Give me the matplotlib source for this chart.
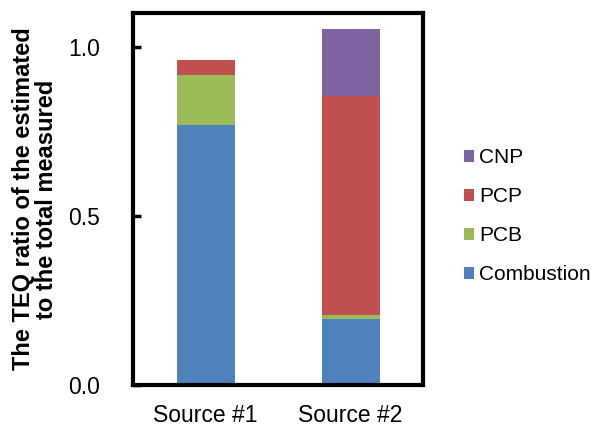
import matplotlib
matplotlib.use("Agg")
import matplotlib.pyplot as plt
from matplotlib.patches import Patch

plt.rcParams['font.family'] = ['Liberation Sans', 'DejaVu Sans']

categories = ["Source #1", "Source #2"]
series_names = ["Combustion", "PCB", "PCP", "CNP"]
combustion = [0.770, 0.195]
pcb = [0.147, 0.012]
pcp = [0.045, 0.649]
cnp = [0.0, 0.197]
colors = ["#4F81BD", "#9BBB59", "#C0504D", "#8064A2"]
yticks = [0.0, 0.5, 1.0]

fig = plt.figure(figsize=(5.94, 4.26), dpi=100)
ax = fig.add_axes([133/594, 41/426, 290/594, 372/426])

x = list(range(len(categories)))
bottom = [0.0] * len(categories)
handles = []
for name, vals, c in zip(series_names, [combustion, pcb, pcp, cnp], colors):
    ax.bar(x, vals, width=0.4, bottom=bottom, color=c, edgecolor='none')
    bottom = [b + v for b, v in zip(bottom, vals)]
    handles.append(Patch(facecolor=c, edgecolor='none', label=name))

ax.set_xlim(-0.5, 1.5)
ax.set_ylim(0, 1.1)
ax.set_xticks(x)
ax.set_xticklabels(categories, fontsize=16.5)
ax.set_yticks(yticks)
ax.set_yticklabels([f"{t:.1f}" for t in yticks], fontsize=16.5)
ax.tick_params(axis='x', length=0, pad=14)
ax.tick_params(axis='y', direction='in', length=6, width=2.5, pad=24)
for s in ax.spines.values():
    s.set_linewidth(3)
    s.set_color('black')

ax.set_ylabel("The TEQ ratio of the estimated\nto the total measured", fontsize=17,
              fontweight='bold', labelpad=7, linespacing=1.0)

fig.legend(handles=handles[::-1], loc='center left', bbox_to_anchor=(445/594, 210/426),
           frameon=False, fontsize=15, handlelength=0.5, handleheight=0.5,
           handletextpad=0.25, labelspacing=0.96)

fig.savefig("out.png", dpi=100)
